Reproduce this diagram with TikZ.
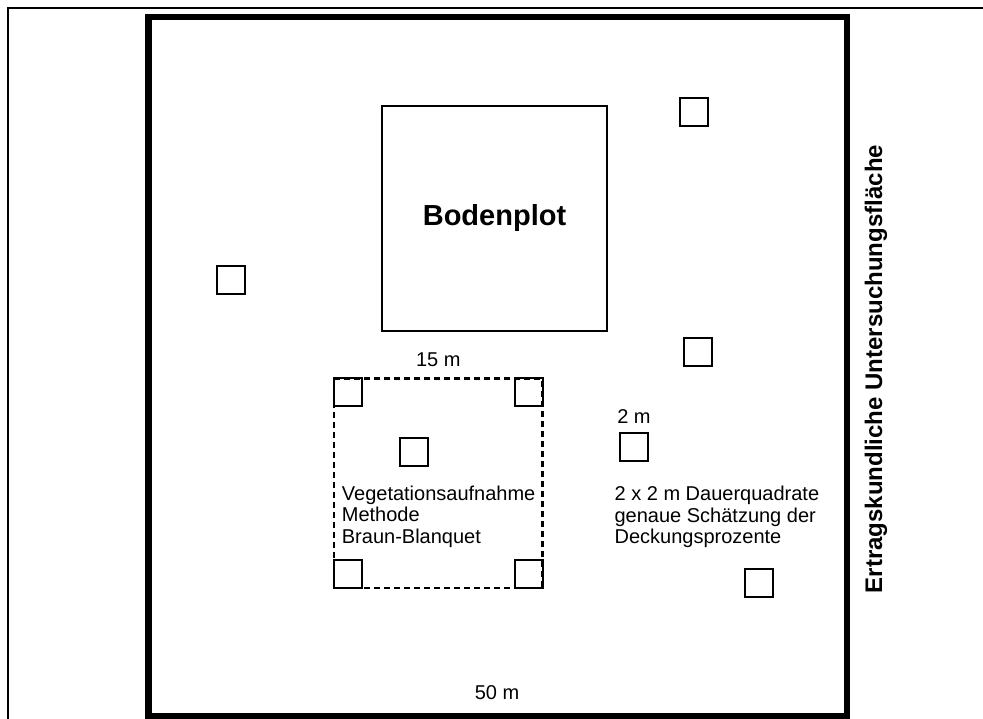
\documentclass[tikz,border=0pt]{standalone}
\usepackage{fontspec}
\setmainfont{Liberation Sans}
\usepackage{tikz}
\usetikzlibrary{positioning}

\begin{document}
\begin{tikzpicture}[x=1pt, y=-1pt,
    quad/.style={draw, line width=2pt, minimum size=28pt, inner sep=0pt},
    txt/.style={font=\fontsize{20}{21.5}\selectfont, inner sep=0pt}]

    \useasboundingbox (0,0) rectangle (983,719);

    % Outer frame (only top and left edge visible)
    \draw[line width=2pt] (983,7.7) -- (7.7,7.7) -- (7.7,719);

    % Ertragskundliche Untersuchungsflaeche
    \draw[line width=6.5pt] (148.5,17) rectangle (847,716);
    \node[anchor=base, rotate=90, inner sep=0pt, font=\bfseries\fontsize{24}{28}\selectfont] (flaeche) at (882,369) {Ertragskundliche Untersuchungsfläche};
    \node[txt, anchor=base] (w50) at (497,699) {50 m};

    % Bodenplot
    \node[draw, line width=2pt, minimum size=225pt, inner sep=0pt, font=\bfseries\fontsize{29}{32}\selectfont] (boden) at (494.5,218.5) {Bodenplot};

    % Vegetationsaufnahme, dashed plot with five quadrats
    \node[draw, line width=2.5pt, dash pattern=on 6pt off 4pt, minimum width=208.5pt, minimum height=209.3pt, inner sep=0pt] (veg) at (438.25,483.35) {};
    \node[quad, anchor=north west] (vegNW) at (veg.north west) {};
    \node[quad, anchor=north east] (vegNE) at (veg.north east) {};
    \node[quad, anchor=south west] (vegSW) at (veg.south west) {};
    \node[quad, anchor=south east] (vegSE) at (veg.south east) {};
    \node[quad] (vegC) at (413.7,451.7) {};
    \node[txt, anchor=base] (w15) at ([yshift=10.5pt]veg.north) {15 m};
    % base of a multi-line node is the last line
    \node[txt, anchor=base west, align=left] (vegtext) at (341.7,543) {Vegetationsaufnahme\\Methode\\Braun-Blanquet};

    % Dauerquadrate
    \node[quad] (dq1) at (231,280) {};
    \node[quad] (dq2) at (693.5,112.5) {};
    \node[quad] (dq3) at (698,352.5) {};
    \node[quad] (dq4) at (634,447) {};
    \node[quad] (dq5) at (758.5,583) {};
    \node[txt, anchor=base] (w2) at ([yshift=9pt]dq4.north) {2 m};
    \node[txt, anchor=base west, align=left] (dqtext) at (614.4,543.5) {2 x 2 m Dauerquadrate\\genaue Schätzung der\\Deckungsprozente};
\end{tikzpicture}
\end{document}
